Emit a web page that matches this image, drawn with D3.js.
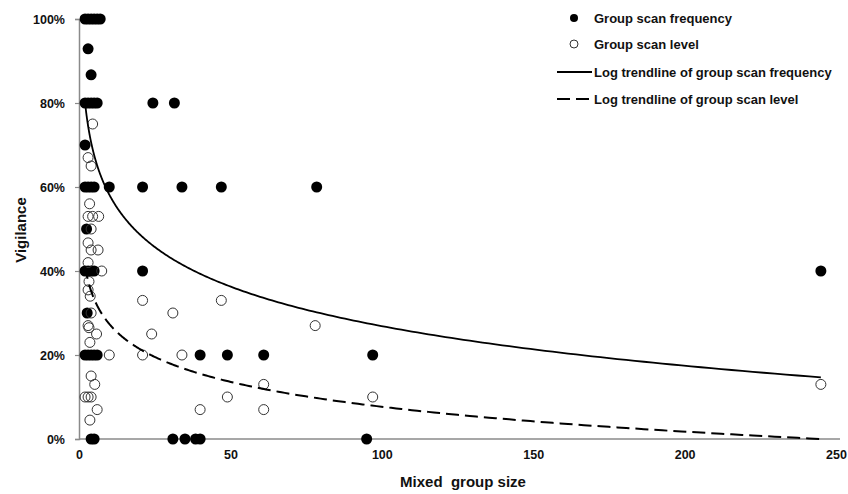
<!DOCTYPE html>
<html>
<head>
<meta charset="utf-8">
<script src="https://cdn.jsdelivr.net/npm/d3@7"></script>
<style>
  html, body { margin: 0; padding: 0; background: #fff; }
  svg { display: block; font-family: "Liberation Sans", Arial, sans-serif; }
</style>
</head>
<body>
<svg id="chart" width="848" height="494"></svg>
<script>
// ---- data ----
const freqSize = [2,3,4,5,6,7, 3, 4, 2,3,4,5,6,24.4,31.5, 2, 2,3,4,5,10,21,34,47,78.5, 2.5, 2,3,4,5,21,245, 2.7, 2,3,4,5,6,40,49,61,97, 4,5,31,35,38.5,40,95];
const freqVig  = [1,1,1,1,1,1, 0.929, 0.867, 0.8,0.8,0.8,0.8,0.8,0.8,0.8, 0.7, 0.6,0.6,0.6,0.6,0.6,0.6,0.6,0.6,0.6, 0.5, 0.4,0.4,0.4,0.4,0.4,0.4, 0.3, 0.2,0.2,0.2,0.2,0.2,0.2,0.2,0.2,0.2, 0,0,0,0,0,0,0];

const levelSize = [4.5, 3, 4, 3.5, 3,4.5,6.5, 4, 3, 4,6.3, 3, 7.5, 3.3, 3, 3.7, 21,47, 4,31, 3,78, 3.3, 5.8,24, 3.6, 10,21,34, 4, 5.2,61,245, 2,3,4,49,97, 6,40,61, 3.6];
const levelVig  = [0.75, 0.67, 0.65, 0.56, 0.53,0.53,0.53, 0.5, 0.467, 0.45,0.45, 0.42, 0.4, 0.375, 0.355, 0.34, 0.33,0.33, 0.3,0.3, 0.27,0.27, 0.265, 0.25,0.25, 0.23, 0.2,0.2,0.2, 0.15, 0.13,0.13,0.13, 0.1,0.1,0.1,0.1,0.1, 0.07,0.07,0.07, 0.045];

// logarithmic trendlines y = a + b*ln(x), coefficients
const trendFreq  = { a: 0.895, b: -0.136 };
const trendLevel = { a: 0.471, b: -0.0856 };
const trendRange = [2, 245];

const xTicks = [0, 50, 100, 150, 200, 250];
const yTicks = [0, 0.2, 0.4, 0.6, 0.8, 1.0];

const seriesNames = ["Group scan frequency", "Group scan level",
                     "Log trendline of group scan frequency", "Log trendline of group scan level"];
const axisTitles = { x: "Mixed  group size", y: "Vigilance" };

// ---- layout ----
const svg = d3.select("#chart");
const margin = { left: 79, top: 19, right: 12, bottom: 55 };
const W = 848, H = 494;
const x = d3.scaleLinear().domain([0, 250]).range([margin.left, W - margin.right]);
const y = d3.scaleLinear().domain([0, 1]).range([H - margin.bottom, margin.top]);
const axisColor = "#8a8a8a";

// axes
const xAxis = svg.append("g")
  .attr("transform", `translate(0,${y(0)})`)
  .call(d3.axisBottom(x).tickValues(xTicks).tickSize(0).tickPadding(11).tickFormat(d3.format("d")));
const yAxis = svg.append("g")
  .attr("transform", `translate(${x(0)},0)`)
  .call(d3.axisLeft(y).tickValues(yTicks).tickSize(4).tickPadding(10).tickFormat(d3.format(".0%")));

[xAxis, yAxis].forEach(g => {
  g.select(".domain").attr("stroke", axisColor).attr("stroke-width", 1.5);
  g.selectAll(".tick line").attr("stroke", axisColor).attr("stroke-width", 1.2);
  g.selectAll(".tick text")
    .attr("fill", "#111").attr("font-size", 12.5).attr("font-weight", "bold")
    .attr("font-family", "Liberation Sans, Arial, sans-serif");
});
xAxis.select(".domain").attr("d", `M${x(0)},0H${W - 8}`);

// axis titles
svg.append("text")
  .attr("x", 463).attr("y", 487)
  .attr("text-anchor", "middle").attr("font-size", 15).attr("font-weight", "bold").attr("fill", "#111")
  .attr("xml:space", "preserve").style("white-space", "pre")
  .text(axisTitles.x);
svg.append("text")
  .attr("transform", `translate(26,230) rotate(-90)`)
  .attr("text-anchor", "middle").attr("font-size", 15).attr("font-weight", "bold").attr("fill", "#111")
  .text(axisTitles.y);

// points: frequency (filled)
const freqData = freqSize.map((s, i) => ({ s, v: freqVig[i] }));
const levelData = levelSize.map((s, i) => ({ s, v: levelVig[i] }));

svg.append("g").selectAll("circle").data(freqData).join("circle")
  .attr("cx", d => x(d.s)).attr("cy", d => y(d.v)).attr("r", 5.5)
  .attr("fill", "#000");

svg.append("g").selectAll("circle").data(levelData).join("circle")
  .attr("cx", d => x(d.s)).attr("cy", d => y(d.v)).attr("r", 5)
  .attr("fill", "none").attr("stroke", "#333").attr("stroke-width", 1);

// trendlines
const samples = d3.range(0, 301).map(i => trendRange[0] * Math.pow(trendRange[1] / trendRange[0], i / 300));
const line = t => d3.line().x(d => x(d)).y(d => y(t.a + t.b * Math.log(d)))(samples);

svg.append("path").attr("d", line(trendFreq))
  .attr("fill", "none").attr("stroke", "#000").attr("stroke-width", 1.8);
svg.append("path").attr("d", line(trendLevel))
  .attr("fill", "none").attr("stroke", "#000").attr("stroke-width", 2).attr("stroke-dasharray", "13,6");

// legend
const legend = svg.append("g").attr("font-size", 13).attr("font-weight", "bold").attr("fill", "#111");
const legY = [18, 44, 72, 99];
legend.append("circle").attr("cx", 574).attr("cy", legY[0]).attr("r", 4).attr("fill", "#000");
legend.append("circle").attr("cx", 574).attr("cy", legY[1]).attr("r", 4)
  .attr("fill", "none").attr("stroke", "#333").attr("stroke-width", 1);
legend.append("line").attr("x1", 557).attr("x2", 592).attr("y1", legY[2]).attr("y2", legY[2])
  .attr("stroke", "#000").attr("stroke-width", 1.8);
legend.append("line").attr("x1", 557).attr("x2", 592).attr("y1", legY[3]).attr("y2", legY[3])
  .attr("stroke", "#000").attr("stroke-width", 2).attr("stroke-dasharray", "13,6");
legend.selectAll("text").data(seriesNames).join("text")
  .attr("x", 594).attr("y", (d, i) => legY[i]).attr("dy", "0.35em")
  .attr("fill", "#111")
  .text(d => d);
</script>
</body>
</html>
